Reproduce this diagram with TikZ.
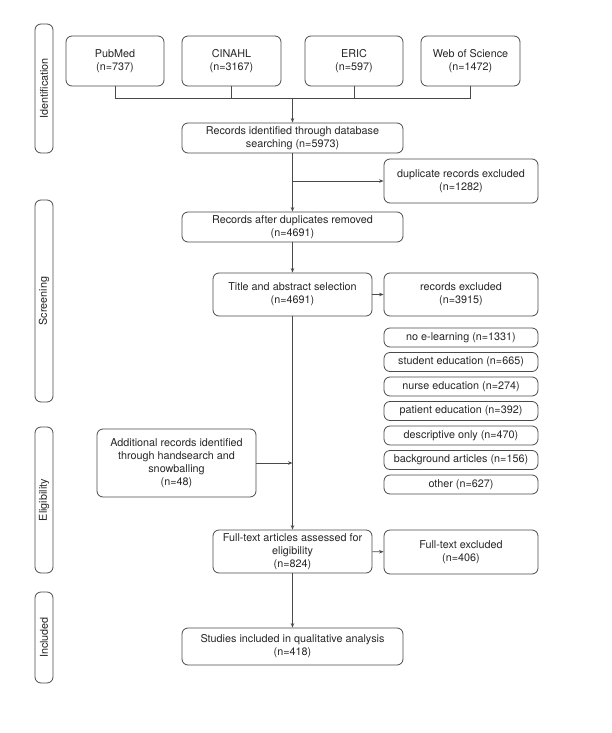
\documentclass[tikz,border=0pt]{standalone}
\usepackage{fontspec}
\setmainfont{TeX Gyre Heros}
\usetikzlibrary{positioning, arrows.meta}
\definecolor{linegray}{HTML}{4A4A4A}

\begin{document}
\begin{tikzpicture}[x=1pt, y=-1pt, >={Stealth[length=4.5pt, width=3.5pt]},
  box/.style={draw=linegray, line width=0.8pt, rounded corners=6pt, align=center,
    inner sep=1pt, text=black!85, font=\fontsize{10.8}{13}\selectfont},
  phase/.style={box, rotate=90, minimum height=18pt},
  flow/.style={draw=linegray, line width=0.8pt}]

\useasboundingbox (0,0) rectangle (611,733);

% Column centres
\def\mainX{292.5}
\def\sideX{461}

% Phases
\node[phase, minimum width=129pt] (phIdent) at (44,88.5) {Identification};
\node[phase, minimum width=202pt] (phScreen) at (44,301) {Screening};
\node[phase, minimum width=146pt] (phElig) at (44,500) {Eligibility};
\node[phase, minimum width=91pt] (phIncl) at (44,637.5) {Included};

% Databases
\node[box, minimum width=98pt, minimum height=50pt] (pubmed) at (115,61) {PubMed\\(n=737)};
\node[box, minimum width=99pt, minimum height=50pt] (cinahl) at (231.5,61) {CINAHL\\(n=3167)};
\node[box, minimum width=98pt, minimum height=50pt] (eric) at (354,61) {ERIC\\(n=597)};
\node[box, minimum width=99pt, minimum height=50pt] (wos) at (470.5,61) {Web of Science\\(n=1472)};

% Main flow
\node[box, minimum width=221pt, minimum height=30pt] (identified) at (\mainX,138)
  {Records identified through database\\searching (n=5973)};
\node[box, minimum width=154pt, minimum height=44pt] (duplicates) at (\sideX,181)
  {duplicate records excluded\\(n=1282)};
\node[box, minimum width=221pt, minimum height=30pt] (afterdup) at (\mainX,227)
  {Records after duplicates removed\\(n=4691)};
\node[box, minimum width=159pt, minimum height=43pt] (screened) at (\mainX,294.5)
  {Title and abstract selection\\(n=4691)};
\node[box, minimum width=154pt, minimum height=43pt] (excluded) at (\sideX,294.5)
  {records excluded\\(n=3915)};

% Reasons for exclusion
\foreach \lbl [count=\k] in {{no e-learning (n=1331)}, {student education (n=665)},
    {nurse education (n=274)}, {patient education (n=392)}, {descriptive only (n=470)},
    {background articles (n=156)}, {other (n=627)}} {
  \pgfmathsetmacro{\y}{337.5 + (\k-1)*24.5}
  \node[box, minimum width=154pt, minimum height=19pt] (reason\k) at (\sideX,\y) {\lbl};
}

\node[box, minimum width=159pt, minimum height=68pt] (additional) at (176.5,463)
  {Additional records identified\\through handsearch and\\snowballing\\(n=48)};
\node[box, minimum width=159pt, minimum height=43pt] (fulltext) at (\mainX,551.5)
  {Full-text articles assessed for\\eligibility\\(n=824)};
\node[box, minimum width=154pt, minimum height=44pt] (ftexcluded) at (\sideX,552)
  {Full-text excluded\\(n=406)};
\node[box, minimum width=221pt, minimum height=37pt] (included) at (\mainX,646.5)
  {Studies included in qualitative analysis\\(n=418)};

% Connectors
\coordinate (merge) at (\mainX,98);
\foreach \db in {pubmed, cinahl, eric, wos}
  \draw[flow] (\db.south) |- (merge);
\draw[flow, ->] (merge) -- (identified);
\draw[flow, ->] (identified) -- (afterdup);
\draw[flow, ->] (identified.south |- duplicates.west) -- (duplicates.west);
\draw[flow, ->] (afterdup) -- (screened);
\draw[flow, ->] (screened) -- (excluded);
\draw[flow, ->] (screened) -- (fulltext);
\draw[flow, ->] (additional.east) -- (additional.east -| fulltext.north);
\draw[flow, ->] (fulltext) -- (ftexcluded);
\draw[flow, ->] (fulltext) -- (included);

\end{tikzpicture}
\end{document}
